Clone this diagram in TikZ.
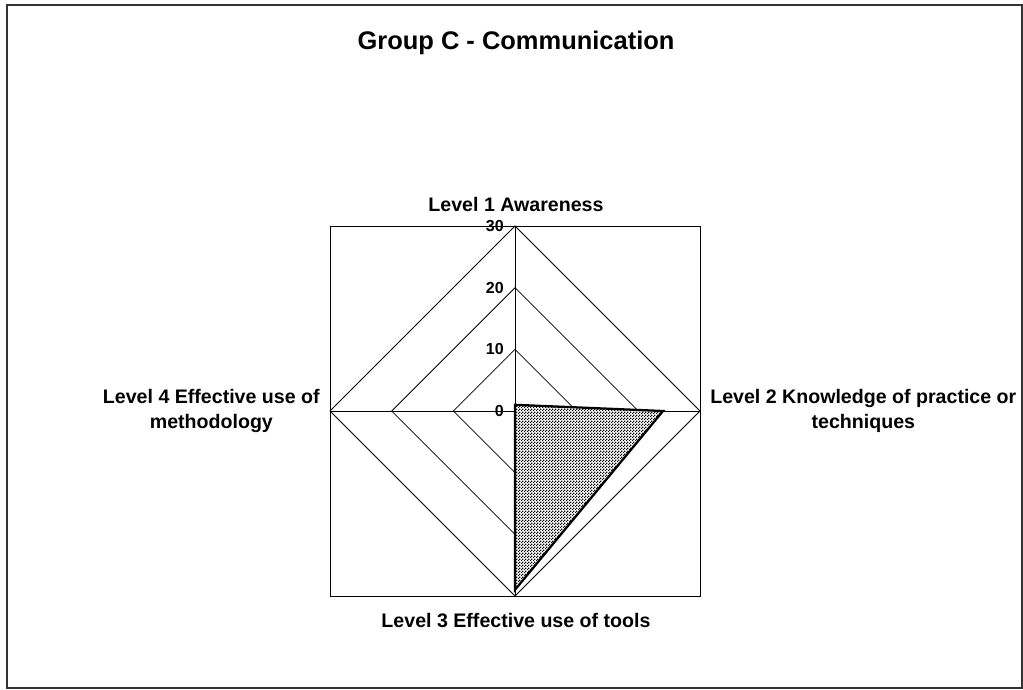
\documentclass[tikz,border=0pt]{standalone}
\usepackage{fontspec}
\setmainfont{Liberation Sans}
\usetikzlibrary{patterns}
\usetikzlibrary{positioning}
\pgfdeclarepatternformonly{checkdots}{\pgfqpoint{0pt}{0pt}}{\pgfqpoint{2.3pt}{2.3pt}}{\pgfqpoint{2.3pt}{2.3pt}}{%
  \pgfpathrectangle{\pgfqpoint{0pt}{0pt}}{\pgfqpoint{1.05pt}{1.05pt}}%
  \pgfpathrectangle{\pgfqpoint{1.15pt}{1.15pt}}{\pgfqpoint{1.05pt}{1.05pt}}%
  \pgfusepath{fill}}

\begin{document}
\begin{tikzpicture}[x=0.75pt,y=-0.75pt]
\tikzset{axislabel/.style={font=\fontsize{14.7}{18.8}\selectfont\bfseries,inner sep=0pt,align=center},
ticklabel/.style={font=\fontsize{12}{13}\selectfont\bfseries,inner sep=0pt,anchor=east},
gridline/.style={line width=0.6pt}}
\useasboundingbox (0,0) rectangle (1023,689);
\draw[line width=1.2pt,draw=black!80](7,5) rectangle (1022,688);
\node[font=\fontsize{19.1}{23}\selectfont\bfseries,inner sep=0pt](title) at (516,43){Group C - Communication};
\coordinate (c) at (515,411);
\coordinate (top) at (515,226);
\coordinate (bot) at (515,596);
\coordinate (lft) at (330,411);
\coordinate (rgt) at (700,411);
\draw[gridline](lft |- top) rectangle (rgt |- bot);
\foreach \r in {61.67,123.33,185}
  \draw[gridline](515,411-\r) -- (515+\r,411) -- (515,411+\r) -- (515-\r,411) -- cycle;
\draw[gridline](top) -- (bot);
\draw[gridline](lft) -- (rgt);
% data: 1, 24, 29, 0
\coordinate (d1) at (515,404.8);
\coordinate (d2) at (663,411);
\coordinate (d3) at (515,589.8);
\fill[white](d1) -- (d2) -- (d3) -- (c) -- cycle;
\draw[line width=1.7pt,pattern=checkdots](d1) -- (d2) -- (d3) -- (c) -- cycle;
\foreach \v/\y [count=\i] in {0/411,10/349.3,20/287.7,30/226}
  \node[ticklabel](tick\i) at (504,\y){\v};
\node[axislabel,anchor=base](lvlone) at (516,211){Level 1 Awareness};
\node[axislabel,anchor=north west](lvltwo) at (710,389){Level 2 Knowledge of practice or\\techniques};
\node[axislabel,anchor=base](lvlthree) at (516,627){Level 3 Effective use of tools};
\node[axislabel,anchor=north east](lvlfour) at (320,389){Level 4 Effective use of\\methodology};
\end{tikzpicture}
\end{document}
